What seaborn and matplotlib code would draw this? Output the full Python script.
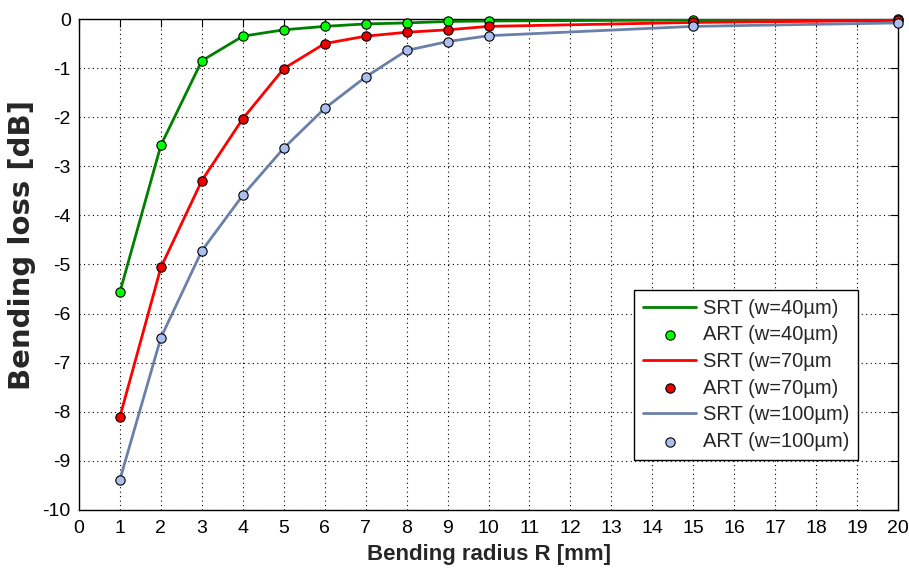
import numpy as np
import pandas as pd
import matplotlib
matplotlib.use("Agg")
import matplotlib.pyplot as plt
import seaborn as sns

# Bending radius [mm]
radius = [1, 2, 3, 4, 5, 6, 7, 8, 9, 10, 15, 20]

# Bending loss [dB] for the three waveguide widths
loss_w40 = [-5.56, -2.57, -0.85, -0.35, -0.22, -0.15, -0.10, -0.08, -0.05, -0.04, -0.02, -0.01]
loss_w70 = [-8.10, -5.06, -3.29, -2.03, -1.01, -0.50, -0.35, -0.27, -0.22, -0.15, -0.07, -0.03]
loss_w100 = [-9.38, -6.49, -4.72, -3.59, -2.63, -1.82, -1.18, -0.64, -0.46, -0.34, -0.15, -0.08]

widths = ["40", "70", "100"]
srt_labels = ["SRT (w=40µm)", "SRT (w=70µm", "SRT (w=100µm)"]
art_labels = ["ART (w=40µm)", "ART (w=70µm)", "ART (w=100µm)"]
x_ticks = list(range(0, 21))
y_ticks = list(range(-10, 1))

line_colors = ["#008000", "#ff0000", "#6b80a8"]
face_colors = ["#00ff00", "#ee0000", "#aabfee"]

frames = []
for w, vals in zip(widths, [loss_w40, loss_w70, loss_w100]):
    frames.append(pd.DataFrame({"R": radius, "loss": vals, "w": w}))
df = pd.concat(frames, ignore_index=True)

sns.set_style("white")
plt.rcParams["font.family"] = ["Liberation Sans", "DejaVu Sans"]
plt.rcParams["axes.unicode_minus"] = False

fig = plt.figure(figsize=(9.09, 5.69), dpi=100)
ax = fig.add_axes([0.0869, 0.1037, 0.9011, 0.8629])

handles = []
for w, lc, fc, sl, al in zip(widths, line_colors, face_colors, srt_labels, art_labels):
    sub = df[df["w"] == w]
    sns.lineplot(data=sub, x="R", y="loss", ax=ax, color=lc, linewidth=2.0,
                 label=sl, legend=False, zorder=3)
    line = ax.get_lines()[-1]
    sns.scatterplot(data=sub, x="R", y="loss", ax=ax, color=fc, edgecolor="black",
                    linewidth=0.8, s=45, label=al, legend=False, zorder=4, clip_on=False)
    pts = ax.collections[-1]
    handles += [line, pts]

ax.set_xlim(0, 20)
ax.set_ylim(-10, 0)
ax.set_xticks(x_ticks)
ax.set_yticks(y_ticks)
ax.tick_params(direction="in", top=True, right=True, length=6, width=0.8,
               labelsize=14, colors="black")
ax.tick_params(axis="x", pad=7)
ax.tick_params(axis="y", pad=6)
ax.grid(True, color="black", linestyle=(0, (1, 3)), linewidth=0.8)
for s in ax.spines.values():
    s.set_color("black")
    s.set_linewidth(1.0)
    s.set_visible(True)

ax.set_xlabel("Bending radius R [mm]", fontsize=16, fontweight="bold", labelpad=5)
ax.set_ylabel("Bending loss [dB]", fontsize=21, fontweight="bold",
              family=["DejaVu Sans"])
ax.yaxis.set_label_coords(-0.053, 0.54)

order_labels = [srt_labels[0], art_labels[0], srt_labels[1], art_labels[1],
                srt_labels[2], art_labels[2]]
leg = ax.legend(handles, order_labels,
                loc="lower right", bbox_to_anchor=(0.951, 0.102), fontsize=14.5,
                frameon=True, fancybox=False, edgecolor="black", framealpha=1,
                handlelength=2.65, handletextpad=0.3, labelspacing=0.38,
                borderpad=0.45, borderaxespad=0)
leg.get_frame().set_linewidth(1.0)

fig.savefig("out.png", dpi=100)
